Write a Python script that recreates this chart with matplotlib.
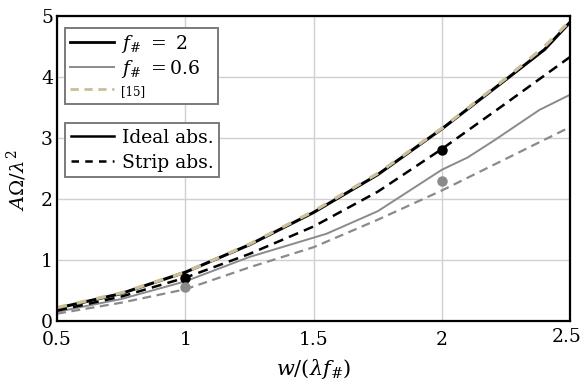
import matplotlib
matplotlib.use("Agg")
import matplotlib.pyplot as plt
from matplotlib.lines import Line2D
from matplotlib.transforms import ScaledTranslation

plt.rcParams['font.family'] = 'DejaVu Serif'
plt.rcParams['mathtext.fontset'] = 'dejavuserif'

# normalised width w/(lambda f#)
x_f2 = [0.5, 0.75, 1.0, 1.25, 1.5, 1.75, 2.0, 2.25, 2.4, 2.5]
ideal_f2 = [0.21, 0.45, 0.80, 1.25, 1.78, 2.40, 3.15, 3.96, 4.45, 4.90]
ref15 = [0.22, 0.46, 0.80, 1.26, 1.80, 2.42, 3.16, 3.98, 4.50, 4.92]

x_strip_f2 = [0.5, 0.75, 1.0, 1.25, 1.5, 1.75, 2.0, 2.25, 2.5]
strip_f2 = [0.17, 0.40, 0.71, 1.10, 1.55, 2.12, 2.82, 3.57, 4.33]

x_f06 = [0.5, 0.75, 1.0, 1.25, 1.55, 1.75, 2.0, 2.1, 2.2, 2.38, 2.5]
ideal_f06 = [0.15, 0.36, 0.65, 1.05, 1.43, 1.80, 2.48, 2.68, 2.95, 3.46, 3.71]

x_strip_f06 = [0.5, 0.75, 1.0, 1.25, 1.5, 1.75, 2.0, 2.25, 2.5]
strip_f06 = [0.12, 0.30, 0.52, 0.88, 1.21, 1.66, 2.14, 2.66, 3.18]

# simulated points
pts_x = [1.0, 2.0]
pts_f2 = [0.71, 2.81]
pts_f06 = [0.56, 2.30]

black = 'black'
gray = '#8a8a8a'
tan = '#c9bf98'

fig = plt.figure(figsize=(5.83, 3.81), dpi=100)
ax = fig.add_axes([0.098, 0.1575, 0.88, 0.8005])

ax.plot(x_strip_f06, strip_f06, color=gray, lw=1.6, ls=(0, (4, 2.5)))
ax.plot(x_f06, ideal_f06, color=gray, lw=1.4)
ax.plot(x_strip_f2, strip_f2, color=black, lw=1.8, ls=(0, (4, 2.5)))
ax.plot(x_f2, ideal_f2, color=black, lw=2.2)
ax.plot(x_f2, ref15, color=tan, lw=2.4, ls=(0, (3, 3)))
ax.plot(pts_x, pts_f2, 'o', color=black, ms=6.5)
ax.plot(pts_x, pts_f06, 'o', color=gray, ms=6.5)

ax.set_xlim(0.5, 2.5)
ax.set_ylim(0, 5)
ax.set_xticks([0.5, 1, 1.5, 2, 2.5])
ax.set_xticklabels(['0.5', '1', '1.5', '2', '2.5'])
ax.set_yticks([0, 1, 2, 3, 4, 5])
ax.tick_params(length=0, labelsize=13.5)
ax.tick_params(axis='x', pad=7)
ax.tick_params(axis='y', pad=3)
ax.grid(True, color='#d0d0d0', lw=1.0)
ax.set_axisbelow(True)
for s in ax.spines.values():
    s.set_linewidth(1.6)
    s.set_color('black')

# keep the last x tick label inside the figure
last = ax.get_xticklabels()[-1]
last.set_transform(last.get_transform() + ScaledTranslation(-4 / 100, 3 / 100, fig.dpi_scale_trans))

ax.set_xlabel(r'$w/(\lambda f_{\#})$', fontsize=15)
ax.xaxis.set_label_coords(0.5, -0.118)
ax.set_ylabel(r'$A\Omega/\lambda^2$', fontsize=14)
ax.yaxis.set_label_coords(-0.054, 0.462)

h1 = [Line2D([], [], color=black, lw=2.0),
      Line2D([], [], color=gray, lw=1.4),
      Line2D([], [], color=tan, lw=2.0, ls=(0, (3, 2)))]
leg1 = ax.legend(h1, [r'$f_{\#}\ =\ 2$', r'$f_{\#}\ = 0.6$', '[15]'],
                 loc='upper left', bbox_to_anchor=(0.0156, 0.5, 0.298, 0.462),
                 mode='expand',
                 fontsize=13.5, frameon=True, fancybox=False, edgecolor='#7a7a7a',
                 framealpha=1, handlelength=2.3, handletextpad=0.4,
                 borderpad=0.28, labelspacing=0.15, borderaxespad=0)
leg1.get_frame().set_linewidth(1.4)
leg1.get_texts()[2].set_fontsize(8.5)
ax.add_artist(leg1)

h2 = [Line2D([], [], color=black, lw=1.8),
      Line2D([], [], color=black, lw=1.8, ls=(0, (3, 2.5)))]
leg2 = ax.legend(h2, ['Ideal abs.', 'Strip abs.'],
                 loc='upper left', bbox_to_anchor=(0.016, 0.648),
                 fontsize=13.5, frameon=True, fancybox=False, edgecolor='#7a7a7a',
                 framealpha=1, handlelength=2.3, handletextpad=0.4,
                 borderpad=0.3, labelspacing=0.35, borderaxespad=0)
leg2.get_frame().set_linewidth(1.4)

fig.savefig('out.png', dpi=100)
